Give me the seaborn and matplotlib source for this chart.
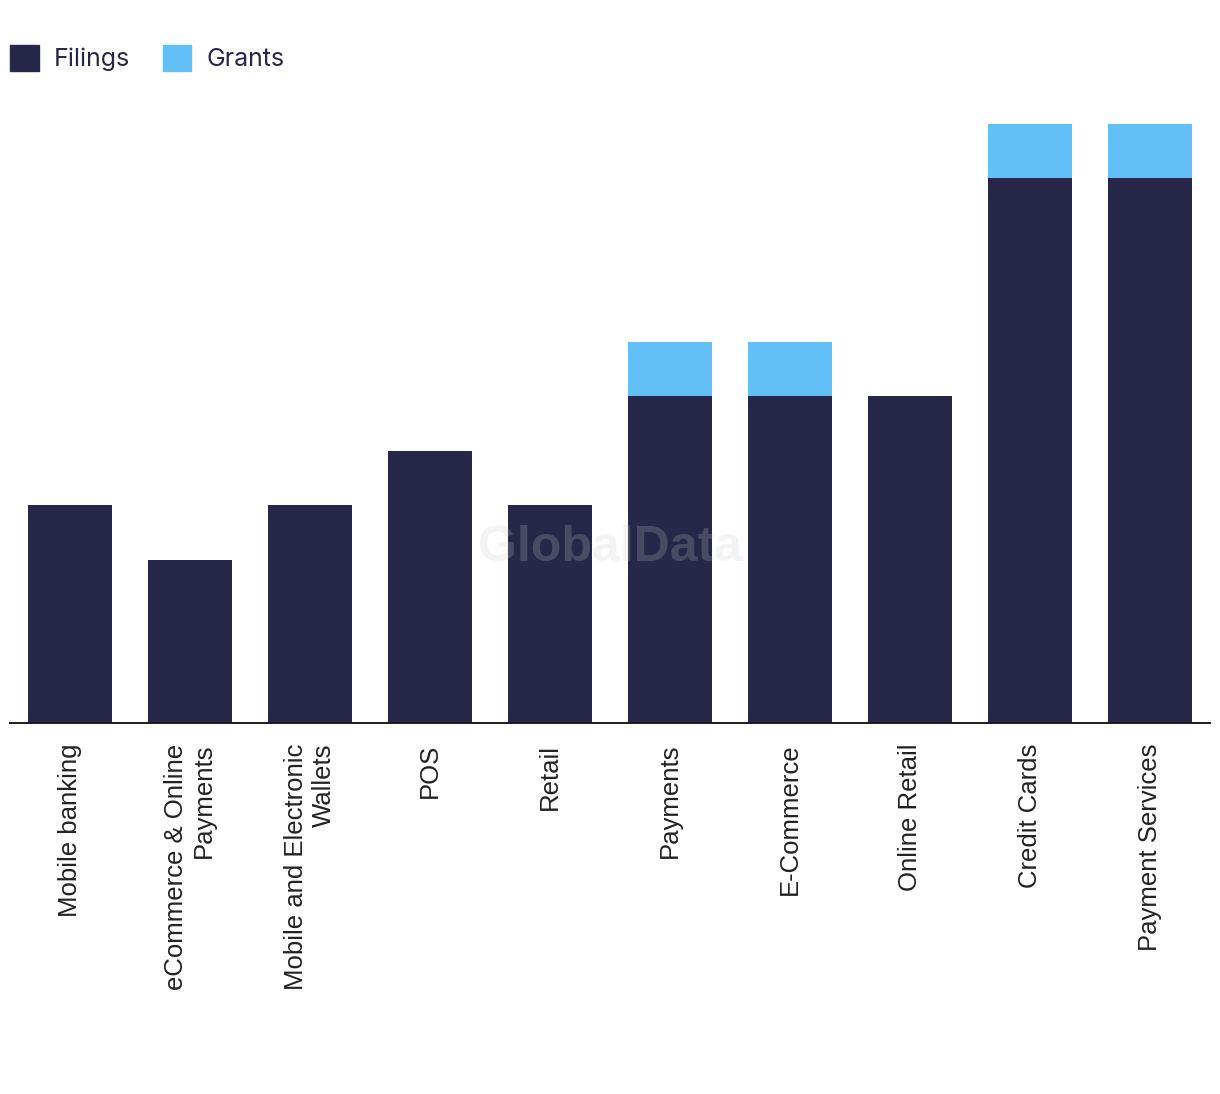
import matplotlib
matplotlib.use("Agg")
import matplotlib.pyplot as plt
import matplotlib.patches as mpatches
import seaborn as sns
import pandas as pd

categories = ["Mobile banking", "eCommerce & Online\nPayments",
              "Mobile and Electronic\nWallets", "POS", "Retail", "Payments",
              "E-Commerce", "Online Retail", "Credit Cards", "Payment Services"]
filings = [4, 3, 4, 5, 4, 6, 6, 6, 10, 10]
grants = [0, 0, 0, 0, 0, 1, 1, 0, 1, 1]

NAVY = "#272849"
BLUE = "#62c0f7"

df = pd.DataFrame({"category": categories, "filings": filings, "grants": grants})
df["total"] = df.filings + df.grants

sns.set_theme(style="white")
plt.rcParams["font.family"] = ["Liberation Sans", "DejaVu Sans"]

fig = plt.figure(figsize=(12.2, 10.94), dpi=100)
ax = fig.add_axes([10 / 1220, (1094 - 723) / 1094, 1200 / 1220, (723 - 124) / 1094])

# grants stacked on filings: draw totals first, filings over them
sns.barplot(data=df, x="category", y="total", color=BLUE, width=0.7,
            saturation=1, linewidth=0, ax=ax)
sns.barplot(data=df, x="category", y="filings", color=NAVY, width=0.7,
            saturation=1, linewidth=0, ax=ax)

ax.set_xlim(-0.5, 9.5)
ax.set_ylim(0, 11)
ax.set_xlabel("")
ax.set_ylabel("")
ax.set_yticks([])
for s in ["top", "right", "left"]:
    ax.spines[s].set_visible(False)
ax.spines["bottom"].set_color("#1a1a1a")
ax.spines["bottom"].set_linewidth(1.4)
ax.tick_params(axis="x", length=0, pad=15)
ax.set_xticks(range(len(categories)))
ax.set_xticklabels(categories, rotation=90, ha="center", va="top",
                   multialignment="right", fontsize=18.5, color="#222222")

# watermark
fig.text(610 / 1220, 1 - 548 / 1094, "GlobalData", fontsize=36, fontweight="bold",
         color="#cbcbcb", alpha=0.21, ha="center", va="center")

handles = [mpatches.Patch(color=NAVY, label="Filings"),
           mpatches.Patch(color=BLUE, label="Grants")]
fig.legend(handles=handles, loc="upper left", bbox_to_anchor=(10 / 1220, 1 - 45 / 1094),
           ncol=2, frameon=False, handlelength=1.15, handleheight=1.2,
           handletextpad=0.6, columnspacing=1.3, labelcolor="#272849",
           borderpad=0, borderaxespad=0,
           prop={"family": ["Inter", "DejaVu Sans"], "size": 18})

fig.savefig("out.png", dpi=100)
